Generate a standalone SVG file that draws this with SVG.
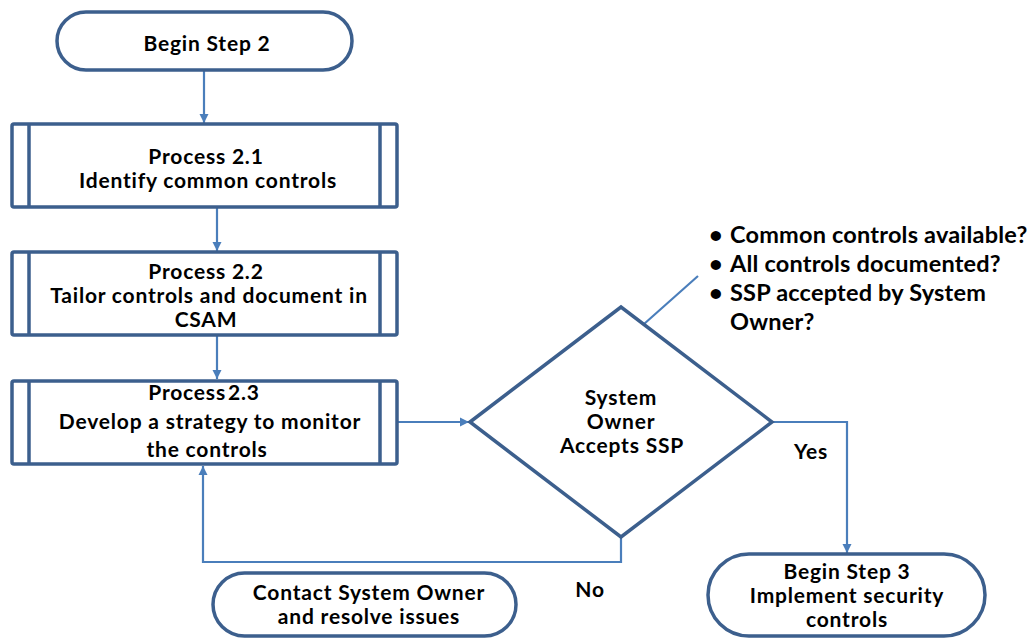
<svg xmlns="http://www.w3.org/2000/svg" width="1029" height="639" viewBox="0 0 1029 639">
<style>
.shape{fill:#fff;stroke:#3c5f8d;stroke-width:3.5}
.conn{fill:none;stroke:#4a7ebb;stroke-width:2.2}
text{font-family:Lato,"Liberation Sans",sans-serif;font-weight:bold;font-size:21px;letter-spacing:0.8px;fill:#000;text-anchor:middle}
.lbl{text-anchor:start;font-size:23.5px;letter-spacing:0.2px}
</style>
<defs>
<marker id="ah" markerWidth="10" markerHeight="10" refX="9" refY="5" orient="auto" markerUnits="userSpaceOnUse">
<path d="M0,0.5 L9,5 L0,9.5 Z" fill="#4a7ebb"/>
</marker>
</defs>
<rect width="1029" height="639" fill="#fff"/>
<g id="connectors">
<path class="conn" d="M204,70 V123" marker-end="url(#ah)"/>
<path class="conn" d="M217,207 V251" marker-end="url(#ah)"/>
<path class="conn" d="M217,322 V379" marker-end="url(#ah)"/>
<path class="conn" d="M398,422 H469" marker-end="url(#ah)"/>
<path class="conn" d="M772,422 H847 V553" marker-end="url(#ah)"/>
<path class="conn" d="M621,537 V562 H203 V466" marker-end="url(#ah)"/>
<path class="conn" d="M644,324 L698,276"/>
</g>
<g id="begin2">
<rect class="shape" x="57" y="12" width="295" height="58" rx="29"/>
<text x="207" y="51">Begin Step 2</text>
</g>
<g id="p21">
<rect class="shape" x="12" y="124" width="385" height="83" rx="2"/>
<path class="shape" d="M29,124 V207 M380,124 V207"/>
<text x="206" y="164">Process 2.1</text>
<text x="208" y="188">Identify common controls</text>
</g>
<g id="p22">
<rect class="shape" x="12" y="252" width="385" height="83" rx="2"/>
<path class="shape" d="M29,252 V335 M380,252 V335"/>
<text x="206" y="279">Process 2.2</text>
<text x="209" y="303">Tailor controls and document in</text>
<text x="206" y="327">CSAM</text>
</g>
<g id="p23">
<rect class="shape" x="12" y="381" width="385" height="83" rx="2"/>
<path class="shape" d="M29,381 V464 M380,381 V464"/>
<text x="204" y="400">Process<tspan dx="2">2.3</tspan></text>
<text x="210" y="429">Develop a strategy to monitor</text>
<text x="207" y="457">the controls</text>
</g>
<g id="decision">
<path class="shape" d="M470,422 L621,307 L772,422 L621,537 Z"/>
<text x="621" y="405">System</text>
<text x="621" y="429">Owner</text>
<text x="622" y="453">Accepts SSP</text>
</g>
<g id="note">
<text class="lbl" x="709" y="243">•</text>
<text class="lbl" x="730" y="243">Common controls available?</text>
<text class="lbl" x="709" y="272">•</text>
<text class="lbl" x="730" y="272">All controls documented?</text>
<text class="lbl" x="709" y="301">•</text>
<text class="lbl" x="730" y="301">SSP accepted by System</text>
<text class="lbl" x="730" y="330">Owner?</text>
</g>
<g id="labels">
<text x="811" y="459">Yes</text>
<text x="590" y="597">No</text>
</g>
<g id="contact">
<rect class="shape" x="213" y="573" width="303" height="63" rx="31.5"/>
<text x="369" y="600">Contact System Owner</text>
<text x="369" y="624">and resolve issues</text>
</g>
<g id="begin3">
<rect class="shape" x="708" y="554" width="277" height="82" rx="41"/>
<text x="847" y="579">Begin Step 3</text>
<text x="847" y="603">Implement security</text>
<text x="847" y="627">controls</text>
</g>
</svg>
